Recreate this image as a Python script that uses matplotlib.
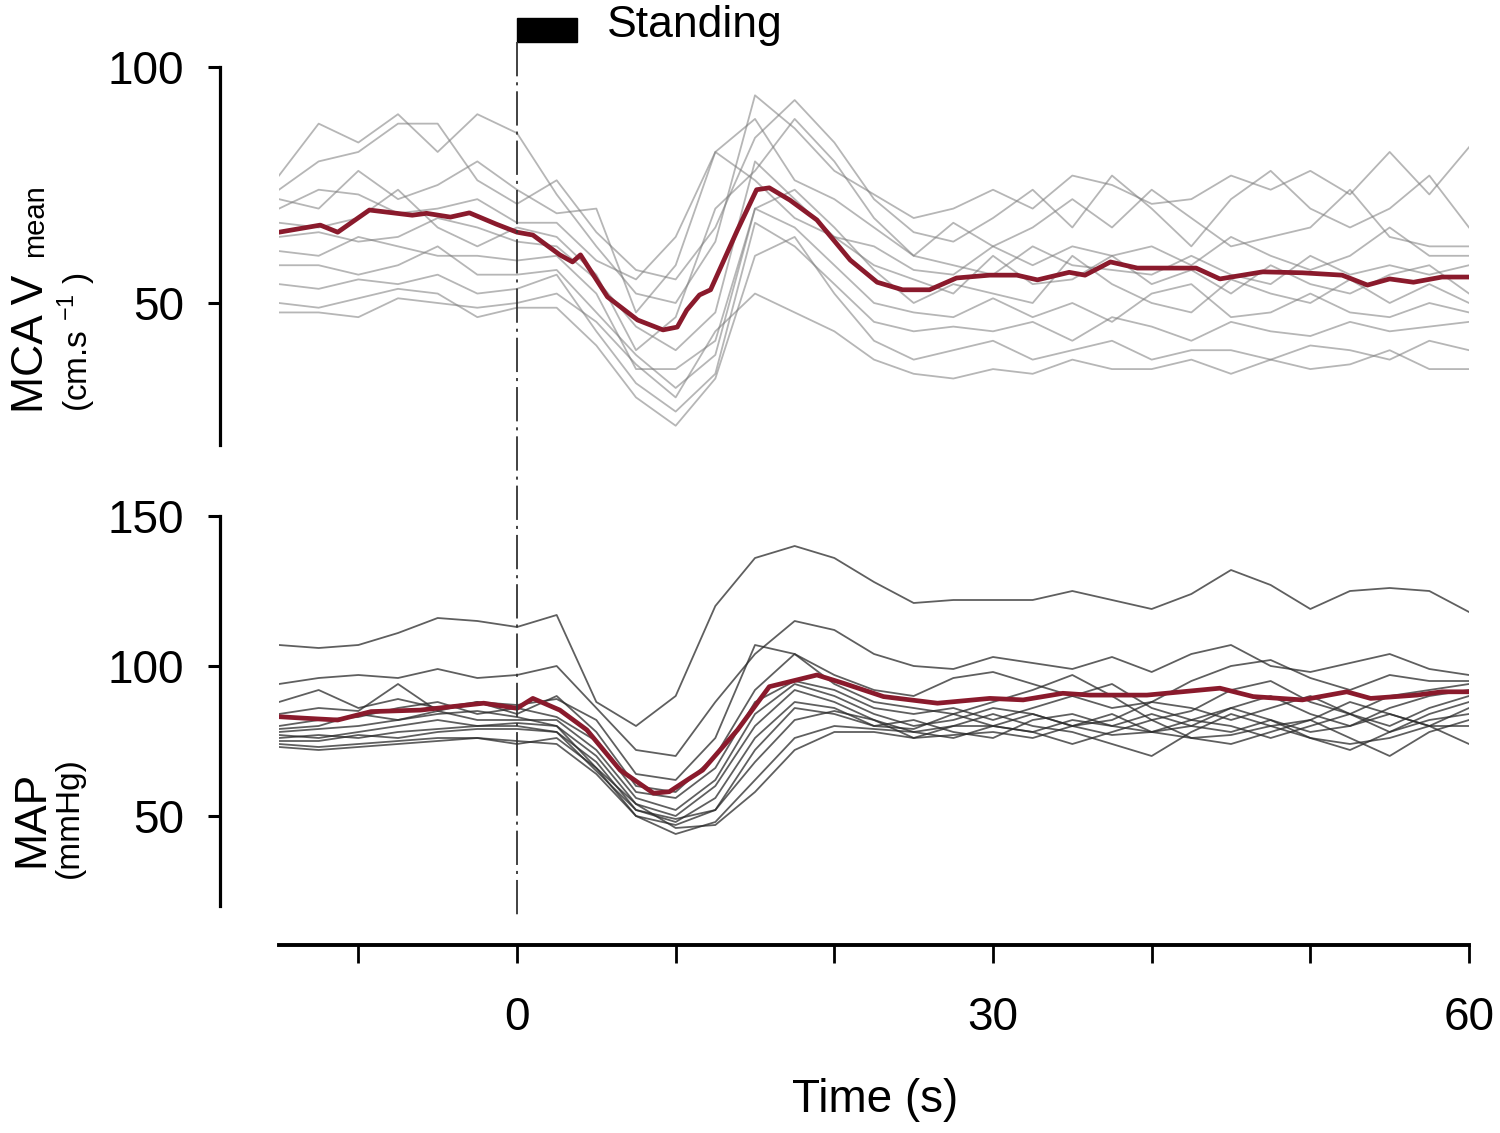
import numpy as np
import matplotlib
matplotlib.use("Agg")
import matplotlib.pyplot as plt
import matplotlib.transforms as mtransforms
from matplotlib.patches import Rectangle
from matplotlib.lines import Line2D

plt.rcParams['font.family'] = ['Liberation Sans', 'DejaVu Sans']
plt.rcParams['mathtext.fontset'] = 'custom'
plt.rcParams['mathtext.rm'] = 'Liberation Sans'

# ---------------- data ----------------
# time grid of the individual traces (s)
t_grid = [-15, -12.5, -10, -7.5, -5, -2.5, 0, 2.5, 5, 7.5, 10, 12.5, 15, 17.5, 20,
          22.5, 25, 27.5, 30, 32.5, 35, 37.5, 40, 42.5, 45, 47.5, 50, 52.5, 55, 57.5, 60]

# MCA Vmean, individual subjects (cm/s)
mca_1 = [77, 88, 84, 90, 82, 90, 86, 73, 62, 52, 50, 63, 94, 87, 78, 73, 68, 70, 74, 70, 77, 75, 71, 72, 77, 74, 78, 73, 82, 73, 83]
mca_2 = [74, 80, 82, 88, 88, 76, 71, 76, 65, 57, 55, 66, 85, 93, 84, 72, 65, 63, 68, 74, 66, 77, 70, 62, 72, 78, 70, 66, 70, 77, 66]
mca_3 = [72, 70, 78, 72, 75, 80, 74, 69, 70, 48, 58, 82, 89, 76, 72, 66, 60, 67, 62, 66, 72, 66, 74, 68, 62, 64, 66, 74, 64, 62, 62]
mca_4 = [70, 74, 73, 69, 70, 72, 67, 67, 59, 55, 64, 82, 76, 68, 64, 62, 57, 56, 62, 58, 62, 60, 62, 58, 64, 60, 57, 60, 66, 60, 60]
mca_5 = [67, 66, 68, 74, 66, 62, 66, 64, 56, 40, 47, 70, 78, 89, 80, 68, 60, 58, 56, 62, 58, 57, 56, 60, 56, 54, 60, 56, 58, 56, 58]
mca_6 = [64, 65, 63, 64, 68, 66, 63, 62, 55, 45, 40, 48, 80, 72, 64, 58, 55, 52, 60, 54, 55, 60, 54, 57, 52, 58, 54, 52, 56, 58, 52]
mca_7 = [61, 60, 64, 62, 60, 60, 59, 60, 52, 36, 36, 42, 70, 74, 66, 57, 50, 54, 52, 50, 60, 54, 50, 48, 55, 52, 50, 55, 50, 54, 50]
mca_8 = [58, 58, 56, 58, 62, 56, 56, 57, 48, 39, 32, 39, 70, 66, 58, 50, 48, 47, 51, 47, 50, 46, 52, 54, 47, 48, 52, 48, 47, 50, 48]
mca_9 = [54, 53, 55, 54, 56, 52, 53, 56, 44, 33, 27, 35, 67, 62, 54, 46, 44, 45, 44, 46, 42, 47, 45, 42, 46, 44, 43, 46, 44, 45, 46]
mca_10 = [50, 49, 51, 53, 52, 47, 49, 49, 41, 30, 24, 34, 60, 64, 52, 42, 38, 40, 42, 38, 40, 42, 38, 40, 40, 38, 41, 40, 38, 42, 40]
mca_11 = [48, 48, 47, 51, 50, 49, 50, 52, 46, 37, 30, 44, 52, 48, 44, 38, 35, 34, 36, 35, 38, 36, 36, 38, 35, 38, 36, 37, 40, 36, 36]
mca_subjects = [mca_1, mca_2, mca_3, mca_4, mca_5, mca_6, mca_7, mca_8, mca_9, mca_10, mca_11]

# MCA Vmean, group mean
mca_mean_t = [-15, -12.4, -11.3, -9.3, -6.6, -5.7, -4.2, -3.0, -1.3, 0, 1.0, 2.7, 3.5, 4.0, 5.7, 7.6,
              9.2, 10.1, 10.7, 11.5, 12.2, 13.9, 15.1, 15.9, 17.2, 18.9, 21.0, 22.7, 24.3, 26.0, 27.7,
              29.8, 31.5, 32.8, 34.8, 35.8, 37.4, 39.1, 42.8, 44.3, 47.0, 49.5, 52.0, 53.6, 55.0,
              56.5, 58.3, 60]
mca_mean = [65.0, 66.5, 65.0, 69.7, 68.6, 69.0, 68.2, 69.1, 66.7, 65.0, 64.4, 60.2, 58.7, 60.2, 51.3, 46.4,
            44.3, 44.9, 48.5, 51.7, 52.8, 65.5, 74.0, 74.4, 71.8, 67.6, 59.1, 54.4, 52.8, 52.8, 55.3,
            55.9, 55.9, 54.9, 56.5, 55.9, 58.7, 57.4, 57.4, 55.1, 56.6, 56.4, 55.9, 53.8, 55.1,
            54.4, 55.5, 55.5]

# MAP, individual subjects (mmHg)
map_1 = [107, 106, 107, 111, 116, 115, 113, 117, 88, 80, 90, 120, 136, 140, 136, 128, 121, 122, 122, 122, 125, 122, 119, 124, 132, 127, 119, 125, 126, 125, 118]
map_2 = [94, 96, 97, 96, 99, 96, 97, 100, 86, 72, 70, 88, 104, 115, 112, 104, 100, 99, 103, 101, 99, 103, 98, 104, 107, 100, 98, 101, 104, 99, 97]
map_3 = [88, 92, 86, 89, 86, 88, 87, 89, 82, 64, 62, 76, 107, 104, 97, 92, 90, 96, 98, 94, 90, 86, 88, 95, 100, 102, 96, 92, 97, 95, 95]
map_4 = [84, 86, 85, 94, 85, 88, 84, 90, 78, 60, 58, 70, 92, 104, 94, 88, 86, 84, 88, 92, 97, 90, 82, 85, 92, 95, 88, 84, 90, 92, 94]
map_5 = [80, 82, 83, 86, 88, 84, 86, 83, 75, 58, 56, 66, 88, 95, 92, 86, 84, 86, 82, 86, 90, 94, 86, 82, 86, 90, 84, 80, 86, 90, 92]
map_6 = [79, 80, 84, 82, 85, 82, 82, 82, 72, 56, 52, 62, 84, 94, 90, 84, 80, 82, 86, 84, 80, 82, 88, 86, 82, 86, 90, 84, 80, 86, 90]
map_7 = [78, 79, 80, 82, 84, 85, 83, 80, 70, 54, 50, 60, 80, 92, 88, 82, 78, 80, 84, 80, 78, 74, 70, 78, 84, 80, 82, 88, 84, 80, 86]
map_8 = [77, 76, 78, 80, 82, 80, 80, 78, 68, 52, 48, 56, 76, 88, 86, 80, 79, 84, 80, 78, 82, 80, 84, 80, 78, 82, 76, 72, 78, 84, 88]
map_9 = [76, 77, 76, 78, 79, 80, 81, 80, 66, 50, 47, 52, 72, 86, 84, 80, 82, 78, 76, 82, 84, 80, 78, 82, 80, 76, 80, 84, 78, 82, 84]
map_10 = [75, 75, 77, 76, 78, 79, 79, 78, 65, 52, 49, 52, 68, 82, 85, 82, 76, 80, 80, 78, 74, 78, 82, 76, 74, 78, 82, 76, 70, 78, 82]
map_11 = [74, 73, 74, 75, 76, 76, 75, 74, 64, 50, 44, 48, 62, 76, 80, 79, 78, 76, 80, 84, 80, 84, 78, 80, 86, 82, 78, 80, 84, 80, 80]
map_12 = [73, 72, 73, 74, 75, 76, 74, 76, 66, 54, 46, 47, 58, 72, 78, 78, 76, 77, 78, 76, 80, 77, 78, 76, 77, 80, 76, 74, 76, 80, 74]
map_subjects = [map_1, map_2, map_3, map_4, map_5, map_6, map_7, map_8, map_9, map_10, map_11, map_12]

# MAP, group mean
map_mean_t = [-15, -13.4, -11.3, -9.2, -6.1, -2.1, 0, 1.0, 2.7, 4.4, 6.5, 8.6, 9.6, 10.9, 11.7, 13.9,
              15.9, 18.9, 20.6, 23.1, 26.5, 29.8, 31.9, 34.4, 36.1, 39.7, 44.3, 46.4, 49.5, 52.3,
              53.8, 56.7, 58.3, 60]
map_mean = [83.1, 82.6, 82.0, 84.8, 85.3, 87.6, 85.9, 89.2, 85.3, 78.7, 65.3, 57.6, 58.1, 62.6, 65.3, 78.7,
            93.1, 97.0, 94.2, 89.8, 87.6, 89.2, 88.7, 90.9, 90.3, 90.3, 92.6, 89.8, 88.7, 91.4,
            89.2, 90.3, 91.4, 91.4]

x_ticks = [-10, 0, 10, 20, 30, 40, 50, 60]
x_ticklabels = ['', '0', '', '', '30', '', '', '60']
standing = (0, 3.8)   # duration of the standing bar (s)

# ---------------- figure ----------------
W, H = 1500, 1133
fig = plt.figure(figsize=(W / 100, H / 100), dpi=100)

def px_box(x0, y0, x1, y1):
    return [x0 / W, 1 - y1 / H, (x1 - x0) / W, (y1 - y0) / H]

red = '#8a1a2c'
font_tick = 33
spine_lw = 2.3

ax1 = fig.add_axes(px_box(279, 67, 1469, 444.6))
ax2 = fig.add_axes(px_box(279, 516, 1469, 906))
axx = fig.add_axes(px_box(279, 944, 1469, 945))

for s in mca_subjects:
    ax1.plot(t_grid, s, color='#7a7a7a', alpha=0.55, lw=1.3)
ax1.plot(mca_mean_t, mca_mean, color=red, lw=3.4, solid_capstyle='round')

for s in map_subjects:
    ax2.plot(t_grid, s, color='#2a2a2a', alpha=0.75, lw=1.3)
ax2.plot(map_mean_t, map_mean, color=red, lw=3.4, solid_capstyle='round')

ax1.set_ylim(20, 100)
ax1.set_yticks([50, 100])
ax2.set_ylim(20, 150)
ax2.set_yticks([50, 100, 150])

for ax in (ax1, ax2):
    ax.set_xlim(-15, 60)
    ax.patch.set_visible(False)
    for side in ('top', 'right', 'bottom'):
        ax.spines[side].set_visible(False)
    ax.spines['left'].set_position(('outward', 42.5))
    ax.spines['left'].set_linewidth(spine_lw)
    ax.set_xticks([])
    ax.tick_params(axis='y', length=9, width=2.2, labelsize=font_tick, pad=17)

# separate time axis
axx.set_xlim(-15, 60)
axx.patch.set_visible(False)
for side in ('top', 'right', 'left'):
    axx.spines[side].set_visible(False)
axx.spines['bottom'].set_linewidth(2.8)
axx.set_yticks([])
axx.set_xticks(x_ticks)
axx.set_xticklabels(x_ticklabels)
axx.tick_params(axis='x', length=13, width=2.0, labelsize=font_tick, pad=24)

# standing marker and dash-dot line at t = 0
blend = mtransforms.blended_transform_factory(ax1.transData, fig.transFigure)
fig.add_artist(Rectangle((standing[0], 1 - 42 / H), standing[1] - standing[0], 24 / H,
                         transform=blend, color='black', clip_on=False))
fig.add_artist(Line2D([standing[0], standing[0]], [1 - 42 / H, 1 - 918 / H], transform=blend,
                      color='#333333', lw=1.3, linestyle=(0, (19, 3.3, 1.7, 3.3))))
fig.text(607 / W, 1 - 37 / H, 'Standing', fontsize=32, ha='left', va='baseline')

# axis labels
def vtext(x, y, s, size):
    fig.text(x / W, 1 - y / H, s, fontsize=size, rotation=90, rotation_mode='anchor',
             ha='left', va='baseline')

vtext(43, 413, 'MCA V', 32)
vtext(43, 257, 'mean', 21)
vtext(88, 412, r'(cm.s $^{-1}$ )', 24)
vtext(43, 867, 'MAP', 32)
vtext(78, 878, '(mmHg)', 24)

fig.text(875 / W, 1 - 1112 / H, 'Time (s)', fontsize=33, ha='center', va='baseline')

fig.savefig('out.png', dpi=100)
